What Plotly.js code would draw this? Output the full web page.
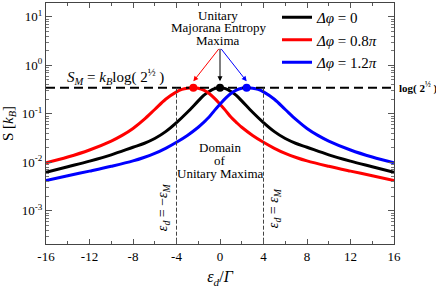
<!DOCTYPE html>
<html><head><meta charset="utf-8">
<script src="https://cdn.plot.ly/plotly-3.0.1.min.js"></script>
<style>html,body{margin:0;padding:0;background:#fff}</style>
</head><body><div id="chart" style="width:436px;height:288px"></div>
<script>
// ---- data ----
const eps_black = [-16,-14,-12,-10,-8,-7,-6,-5,-4,-3,-2,-1.5,-1,-0.5,0,0.5,1,1.5,2,3,4,5,6,7,8,10,12,14,16];
const S_black   = [0.0062,0.0081,0.0106,0.0143,0.0205,0.0245,0.031,0.043,0.066,0.108,0.185,0.24,0.29,0.332,0.3466,
                   0.332,0.29,0.24,0.185,0.108,0.066,0.043,0.031,0.0245,0.0205,0.0143,0.0106,0.0081,0.0062];
const eps_red   = [-16,-14,-12,-10,-9,-8,-7,-6,-5,-4,-3.5,-3,-2.45,-2,-1.5,-1,-0.5,0,0.5,1,1.5,2,3,4,5,6,7,8,10,12,14,16];
const S_red     = [0.0098,0.0129,0.018,0.0275,0.036,0.050,0.076,0.123,0.20,0.285,0.32,0.339,0.3466,0.339,0.31,0.263,
                   0.209,0.158,0.118,0.086,0.067,0.053,0.036,0.026,0.0195,0.0153,0.0126,0.0107,0.0083,0.0066,0.0053,0.0042];
const eps_blue  = [-16,-14,-12,-10,-8,-7,-6,-5,-4,-3,-2,-1.5,-1,-0.5,0,0.5,1,1.5,2,2.45,3,3.5,4,5,6,7,8,9,10,12,14,16];
const S_blue    = [0.0042,0.0053,0.0066,0.0083,0.0107,0.0126,0.0153,0.0195,0.026,0.036,0.053,0.067,0.086,0.118,0.158,
                   0.209,0.263,0.31,0.339,0.3466,0.339,0.32,0.285,0.20,0.123,0.076,0.050,0.036,0.0275,0.018,0.0129,0.0098];
const peak_eps  = [-2.45, 0, 2.45];
const S_M       = 0.3466;          // log(2^(1/2))
const eps_M     = 4;
const legendNames = ['<i>Δφ</i> = 0', '<i>Δφ</i> = 0.8<i>π</i>', '<i>Δφ</i> = 1.2<i>π</i>'];
const xTickVals = [-16,-12,-8,-4,0,4,8,12,16];
const xTickText = ['-16','-12','-8','-4','0','4','8','12','16'];
const xMinorVals = [-14,-10,-6,-2,2,6,10,14];
const yTickVals = [1e-3,1e-2,1e-1,1,10];
const yTickText = ['10<sup>-3</sup>','10<sup>-2</sup>','10<sup>-1</sup>','10<sup>0</sup>','10<sup>1</sup>'];

const minorY = [];
for (let d = -4; d <= 1; d++) for (let k = 2; k <= 9; k++) minorY.push(k * Math.pow(10, d));

const FONT = "'Liberation Serif', 'Times New Roman', serif";
const RED = '#ff0000', BLUE = '#0000ff', BLACK = '#000000';
const lineStyle = c => ({color: c, width: 3, shape: 'spline', smoothing: 1});

const traces = [
  {x: eps_black, y: S_black, mode: 'lines', name: legendNames[0], line: lineStyle(BLACK)},
  {x: eps_red, y: S_red, mode: 'lines', name: legendNames[1], line: lineStyle(RED)},
  {x: eps_blue, y: S_blue, mode: 'lines', name: legendNames[2], line: lineStyle(BLUE)},
  {x: [eps_black[0], eps_black[eps_black.length-1]], y: [S_M, S_M], mode: 'lines', showlegend: false,
   line: {color: BLACK, width: 2, dash: '9px,5px'}},
  {x: [-eps_M, -eps_M], y: [S_M, 1e-5], mode: 'lines', showlegend: false, line: {color: '#444', width: 1, dash: '4px,2px'}},
  {x: [eps_M, eps_M], y: [S_M, 1e-5], mode: 'lines', showlegend: false, line: {color: '#444', width: 1, dash: '4px,2px'}},
  {x: peak_eps, y: peak_eps.map(() => S_M), mode: 'markers', showlegend: false,
   marker: {size: 8, color: [RED, BLACK, BLUE]}}
];

const L = 46, R = 394, T = 2, B = 244;
const px = v => (v - L) / (R - L);
const py = v => (B - v) / (B - T);

function txt(text, x, y, size, opts) {
  return Object.assign({text: text, xref: 'paper', yref: 'paper', x: px(x), y: py(y), showarrow: false,
    xanchor: 'center', yanchor: 'middle', font: {family: FONT, size: size, color: '#000'}}, opts || {});
}
const tipY = Math.log10(0.47), tailY = Math.log10(2.35);
function arrow(xTip, color) {
  return {x: xTip, y: tipY, xref: 'x', yref: 'y', ax: 0, ay: tailY, axref: 'x', ayref: 'y', text: '',
    showarrow: true, arrowhead: 2, arrowsize: 1, arrowwidth: 1, arrowcolor: color};
}

const layout = {
  width: 436, height: 288,
  margin: {l: L, r: 436 - R, t: T, b: 288 - B},
  paper_bgcolor: '#fff', plot_bgcolor: '#fff',
  font: {family: FONT, size: 13, color: '#000'},
  showlegend: true,
  legend: {x: px(277), y: py(1), xanchor: 'left', yanchor: 'top', bgcolor: 'rgba(0,0,0,0)',
    font: {family: FONT, size: 15, color: '#000'}, itemwidth: 30},
  xaxis: {range: [-16, 16], tickmode: 'array', tickvals: xTickVals, ticktext: xTickText,
    ticks: 'inside', ticklen: 5, tickcolor: '#555', showline: true, linecolor: '#444', linewidth: 1,
    mirror: 'ticks', zeroline: false, showgrid: false, tickfont: {family: FONT, size: 13, color: '#000'},
    minor: {tickvals: xMinorVals, ticks: 'inside', ticklen: 3, tickcolor: '#555'},
    title: {text: '<i>ε<sub>d</sub></i>/<i>Γ</i>', font: {family: FONT, size: 16, color: '#000'}, standoff: 8}},
  yaxis: {type: 'log', range: [-3.684, 1.287], tickmode: 'array', tickvals: yTickVals, ticktext: yTickText,
    ticks: 'inside', ticklen: 6, tickcolor: '#555', showline: true, linecolor: '#444', linewidth: 1,
    mirror: 'ticks', zeroline: false, showgrid: false, tickfont: {family: FONT, size: 13, color: '#000'},
    minor: {tickvals: minorY, ticks: 'inside', ticklen: 3, tickcolor: '#777'},
    title: {text: 'S [<i>k<sub>B</sub></i>]', font: {family: FONT, size: 15, color: '#000'}, standoff: 4}},
  annotations: [
    txt('Unitary', 218, 14.5, 13),
    txt('Majorana Entropy', 218, 27, 13),
    txt('Maxima', 218, 39.5, 13),
    arrow(peak_eps[0], RED), arrow(peak_eps[1], BLACK), arrow(peak_eps[2], BLUE),
    txt('<i>S<sub>M</sub></i> = <i>k<sub>B</sub></i>log( 2<sup>½</sup> )', 65, 76, 15, {xanchor: 'left'}),
    txt('<b>log( 2<sup>½</sup> )</b>', 397, 87, 11, {xanchor: 'left'}),
    txt('Domain', 220, 147, 13),
    txt('of', 220, 160, 13),
    txt('Unitary Maxima', 220, 173, 13),
    txt('<i>ε<sub>d</sub></i> = −<i>ε<sub>M</sub></i>', 163, 207, 14, {textangle: -90}),
    txt('<i>ε<sub>d</sub></i> = <i>ε<sub>M</sub></i>', 274, 208, 14, {textangle: -90})
  ]
};

Plotly.newPlot('chart', traces, layout, {displayModeBar: false, staticPlot: true});
</script></body></html>
